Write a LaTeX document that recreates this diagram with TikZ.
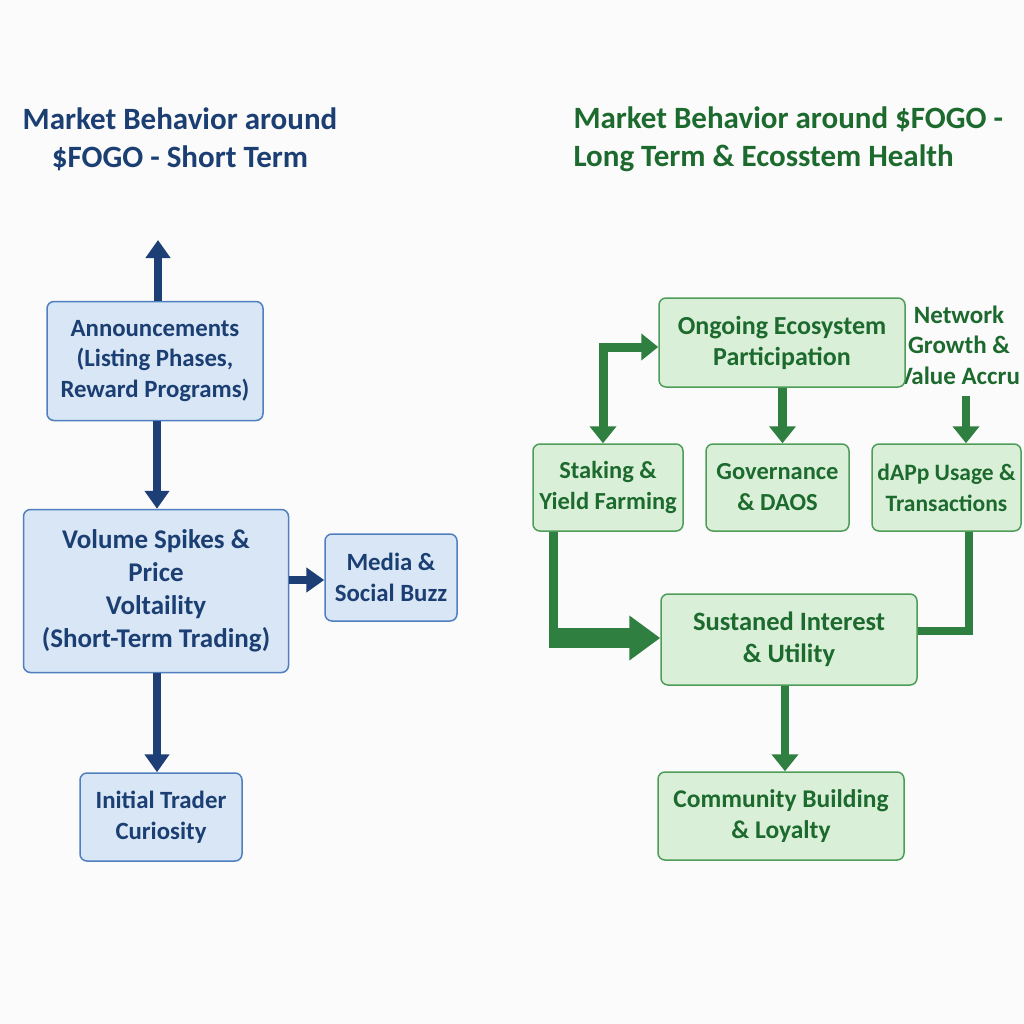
\documentclass[tikz,border=0pt]{standalone}
\usepackage{fontspec}
\setmainfont{Carlito}
\usetikzlibrary{arrows.meta}
\definecolor{bgc}{HTML}{FAFBFA}
\definecolor{bfill}{HTML}{D8E6F5}
\definecolor{bdraw}{HTML}{4F7FBF}
\definecolor{btext}{HTML}{1B3E73}
\definecolor{barrow}{HTML}{1E3F75}
\definecolor{gfill}{HTML}{DAEFD8}
\definecolor{gdraw}{HTML}{4E9C57}
\definecolor{gtext}{HTML}{1C6A2D}
\definecolor{garrow}{HTML}{2F7F40}
\begin{document}
\begin{tikzpicture}[x=1pt,y=-1pt,
  boxbase/.style={line width=1.5pt, rounded corners=7pt, align=center, inner sep=0pt,
    font=\bfseries\fontsize{24.8}{30.5}\selectfont},
  bbox/.style={boxbase, draw=bdraw, fill=bfill, text=btext},
  gbox/.style={boxbase, draw=gdraw, fill=gfill, text=gtext, font=\bfseries\fontsize{25.5}{31}\selectfont},
  barr/.style={draw=barrow, line width=8.5pt, -{Triangle[width=24pt,length=18pt]}},
  garr/.style={draw=garrow, line width=8.5pt, -{Triangle[width=26pt,length=17pt]}},
  gdbl/.style={draw=garrow, line width=9pt, {Triangle[width=26pt,length=17pt]}-{Triangle[width=26pt,length=17pt]}},
  titlefont/.style={font=\bfseries\fontsize{31}{38}\selectfont}
]
\fill[bgc] (0,0) rectangle (1024,1024);
\useasboundingbox (0,0) rectangle (1024,1024);

% titles
\node[titlefont, text=btext, align=center] (tl) at (180,139) {Market Behavior around\\\$FOGO - Short Term};
\node[titlefont, text=gtext, align=left, anchor=west] (tr) at (570,139) {Market Behavior around \$FOGO -\\Long Term \& Ecosstem Health};

% left column
\node[bbox, minimum width=216pt, minimum height=119pt] (ann) at (155,361) {Announcements\\(Listing Phases,\\Reward Programs)};
\node[bbox, minimum width=265pt, minimum height=163pt, font=\bfseries\fontsize{27}{33}\selectfont] (vol) at (156,591) {Volume Spikes \&\\Price\\Voltaility\\(Short-Term Trading)};
\node[bbox, minimum width=132pt, minimum height=87pt] (media) at (391,577.5) {Media \&\\Social Buzz};
\node[bbox, minimum width=162pt, minimum height=88pt] (init) at (161,817) {Initial Trader\\Curiosity};

\coordinate (up) at (158,240);
\coordinate (bx) at (157,0);
\coordinate (my) at (0,580);
\draw[barr] (ann.north -| up) -- (up);
\draw[barr] (ann.south -| bx) -- (vol.north -| bx);
\draw[barr] (vol.east |- my) -- (media.west |- my);
\draw[barr] (vol.south -| bx) -- (init.north -| bx);

% right column
\node[gtext, align=center, font=\bfseries\fontsize{25}{30.5}\selectfont] (net) at (959,345) {Network\\Growth \&\\Value Accru};
\node[gbox, minimum width=246pt, minimum height=89pt, font=\bfseries\fontsize{26}{31}\selectfont] (ong) at (782,342.5) {Ongoing Ecosystem\\Participation};
\node[gbox, minimum width=150pt, minimum height=87pt, font=\bfseries\fontsize{24.5}{31}\selectfont] (stake) at (608,487.5) {Staking \&\\Yield Farming};
\node[gbox, minimum width=143pt, minimum height=87pt, font=\bfseries\fontsize{24.5}{31}\selectfont] (gov) at (777.5,487.5) {Governance\\\& DAOS};
\node[gbox, minimum width=149pt, minimum height=87pt, font=\bfseries\fontsize{23.5}{31}\selectfont] (dapp) at (946.5,487.5) {dAPp Usage \&\\Transactions};
\node[gbox, minimum width=256pt, minimum height=91pt, font=\bfseries\fontsize{26.5}{32}\selectfont] (sus) at (789,639.5) {Sustaned Interest\\\& Utility};
\node[gbox, minimum width=246pt, minimum height=88pt] (comm) at (781,816) {Community Building\\\& Loyalty};

\coordinate (dy) at (0,347);
\coordinate (sx) at (603,0);
\coordinate (gx) at (782.5,0);
\coordinate (nt) at (966,396);
\coordinate (bend) at (553,638);
\coordinate (dx) at (969,0);
\coordinate (ry) at (0,631);
\coordinate (cx) at (785,0);

\draw[gdbl] (ong.west |- dy) -| (stake.north -| sx);
\draw[garr] (ong.south -| gx) -- (gov.north -| gx);
\draw[garr] (nt) -- (dapp.north -| nt);
\draw[draw=garrow, line width=9pt] (stake.south -| bend) -- ([yshift=-10pt]bend);
\draw[draw=garrow, line width=20pt, -{Triangle[width=43pt,length=31pt]}] ([xshift=-4.5pt]bend) -- (sus.west |- bend);
\draw[draw=garrow, line width=8.5pt] (dapp.south -| dx) |- (sus.east |- ry);
\draw[garr] (sus.south -| cx) -- (comm.north -| cx);
\end{tikzpicture}
\end{document}
